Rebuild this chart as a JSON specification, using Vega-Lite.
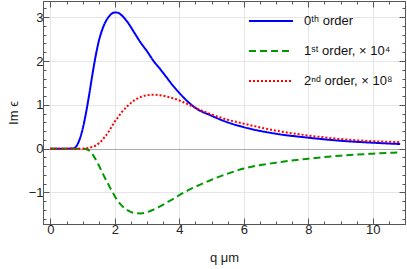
{
  "$schema": "https://vega.github.io/schema/vega-lite/v6.json",
  "width": 362,
  "height": 223,
  "autosize": "none",
  "padding": {"left": 43, "top": 1, "right": 2, "bottom": 45},
  "config": {
    "font": "Liberation Sans",
    "view": {"stroke": "#555555", "strokeWidth": 1},
    "axis": {
      "domainColor": "#555555",
      "tickColor": "#555555",
      "labelColor": "#222222",
      "labelFont": "Liberation Sans",
      "titleFont": "Liberation Sans",
      "titleFontWeight": "normal",
      "titleColor": "#222222",
      "gridColor": "#e6e6e6",
      "labelOverlap": false,
      "labelFlush": false
    },
    "legend": {
      "labelFont": "Liberation Sans",
      "labelFontSize": 13,
      "labelColor": "#111111"
    }
  },
  "data": {
    "values": [
      {"q": 0, "s": "0ᵗʰ order", "v": 0},
      {"q": 0.5, "s": "0ᵗʰ order", "v": 0},
      {"q": 0.7, "s": "0ᵗʰ order", "v": 0.005},
      {"q": 0.8, "s": "0ᵗʰ order", "v": 0.05},
      {"q": 0.9, "s": "0ᵗʰ order", "v": 0.2},
      {"q": 1.0, "s": "0ᵗʰ order", "v": 0.45},
      {"q": 1.1, "s": "0ᵗʰ order", "v": 0.8},
      {"q": 1.2, "s": "0ᵗʰ order", "v": 1.22},
      {"q": 1.3, "s": "0ᵗʰ order", "v": 1.68},
      {"q": 1.4, "s": "0ᵗʰ order", "v": 2.1},
      {"q": 1.5, "s": "0ᵗʰ order", "v": 2.45},
      {"q": 1.6, "s": "0ᵗʰ order", "v": 2.7},
      {"q": 1.7, "s": "0ᵗʰ order", "v": 2.88},
      {"q": 1.8, "s": "0ᵗʰ order", "v": 3.0},
      {"q": 1.9, "s": "0ᵗʰ order", "v": 3.08},
      {"q": 2.0, "s": "0ᵗʰ order", "v": 3.11},
      {"q": 2.1, "s": "0ᵗʰ order", "v": 3.1},
      {"q": 2.2, "s": "0ᵗʰ order", "v": 3.05},
      {"q": 2.4, "s": "0ᵗʰ order", "v": 2.88},
      {"q": 2.6, "s": "0ᵗʰ order", "v": 2.65},
      {"q": 2.8, "s": "0ᵗʰ order", "v": 2.42},
      {"q": 3.0, "s": "0ᵗʰ order", "v": 2.22},
      {"q": 3.2, "s": "0ᵗʰ order", "v": 2.0},
      {"q": 3.4, "s": "0ᵗʰ order", "v": 1.82},
      {"q": 3.6, "s": "0ᵗʰ order", "v": 1.63},
      {"q": 3.8, "s": "0ᵗʰ order", "v": 1.44},
      {"q": 4.0, "s": "0ᵗʰ order", "v": 1.27},
      {"q": 4.5, "s": "0ᵗʰ order", "v": 0.93},
      {"q": 5.0, "s": "0ᵗʰ order", "v": 0.75},
      {"q": 5.5, "s": "0ᵗʰ order", "v": 0.6},
      {"q": 6.0, "s": "0ᵗʰ order", "v": 0.49},
      {"q": 7.0, "s": "0ᵗʰ order", "v": 0.34},
      {"q": 8.0, "s": "0ᵗʰ order", "v": 0.25},
      {"q": 9.0, "s": "0ᵗʰ order", "v": 0.18},
      {"q": 10.0, "s": "0ᵗʰ order", "v": 0.135},
      {"q": 10.85, "s": "0ᵗʰ order", "v": 0.105},

      {"q": 0, "s": "1ˢᵗ order, × 10⁴", "v": 0},
      {"q": 0.5, "s": "1ˢᵗ order, × 10⁴", "v": 0},
      {"q": 1.0, "s": "1ˢᵗ order, × 10⁴", "v": 0},
      {"q": 1.1, "s": "1ˢᵗ order, × 10⁴", "v": -0.01},
      {"q": 1.2, "s": "1ˢᵗ order, × 10⁴", "v": -0.04},
      {"q": 1.3, "s": "1ˢᵗ order, × 10⁴", "v": -0.12},
      {"q": 1.4, "s": "1ˢᵗ order, × 10⁴", "v": -0.24},
      {"q": 1.5, "s": "1ˢᵗ order, × 10⁴", "v": -0.38},
      {"q": 1.6, "s": "1ˢᵗ order, × 10⁴", "v": -0.53},
      {"q": 1.7, "s": "1ˢᵗ order, × 10⁴", "v": -0.68},
      {"q": 1.8, "s": "1ˢᵗ order, × 10⁴", "v": -0.82},
      {"q": 1.9, "s": "1ˢᵗ order, × 10⁴", "v": -0.96},
      {"q": 2.0, "s": "1ˢᵗ order, × 10⁴", "v": -1.09},
      {"q": 2.1, "s": "1ˢᵗ order, × 10⁴", "v": -1.2},
      {"q": 2.2, "s": "1ˢᵗ order, × 10⁴", "v": -1.29},
      {"q": 2.4, "s": "1ˢᵗ order, × 10⁴", "v": -1.41},
      {"q": 2.6, "s": "1ˢᵗ order, × 10⁴", "v": -1.47},
      {"q": 2.8, "s": "1ˢᵗ order, × 10⁴", "v": -1.48},
      {"q": 3.0, "s": "1ˢᵗ order, × 10⁴", "v": -1.45},
      {"q": 3.2, "s": "1ˢᵗ order, × 10⁴", "v": -1.39},
      {"q": 3.4, "s": "1ˢᵗ order, × 10⁴", "v": -1.32},
      {"q": 3.6, "s": "1ˢᵗ order, × 10⁴", "v": -1.23},
      {"q": 3.8, "s": "1ˢᵗ order, × 10⁴", "v": -1.15},
      {"q": 4.0, "s": "1ˢᵗ order, × 10⁴", "v": -1.06},
      {"q": 4.5, "s": "1ˢᵗ order, × 10⁴", "v": -0.87},
      {"q": 5.0, "s": "1ˢᵗ order, × 10⁴", "v": -0.71},
      {"q": 5.5, "s": "1ˢᵗ order, × 10⁴", "v": -0.57},
      {"q": 6.0, "s": "1ˢᵗ order, × 10⁴", "v": -0.455},
      {"q": 7.0, "s": "1ˢᵗ order, × 10⁴", "v": -0.32},
      {"q": 8.0, "s": "1ˢᵗ order, × 10⁴", "v": -0.23},
      {"q": 9.0, "s": "1ˢᵗ order, × 10⁴", "v": -0.16},
      {"q": 10.0, "s": "1ˢᵗ order, × 10⁴", "v": -0.115},
      {"q": 10.85, "s": "1ˢᵗ order, × 10⁴", "v": -0.085},

      {"q": 0, "s": "2ⁿᵈ order, × 10⁸", "v": 0},
      {"q": 0.5, "s": "2ⁿᵈ order, × 10⁸", "v": 0},
      {"q": 1.0, "s": "2ⁿᵈ order, × 10⁸", "v": 0},
      {"q": 1.1, "s": "2ⁿᵈ order, × 10⁸", "v": 0.005},
      {"q": 1.2, "s": "2ⁿᵈ order, × 10⁸", "v": 0.02},
      {"q": 1.3, "s": "2ⁿᵈ order, × 10⁸", "v": 0.04},
      {"q": 1.4, "s": "2ⁿᵈ order, × 10⁸", "v": 0.07},
      {"q": 1.5, "s": "2ⁿᵈ order, × 10⁸", "v": 0.12},
      {"q": 1.6, "s": "2ⁿᵈ order, × 10⁸", "v": 0.19},
      {"q": 1.7, "s": "2ⁿᵈ order, × 10⁸", "v": 0.28},
      {"q": 1.8, "s": "2ⁿᵈ order, × 10⁸", "v": 0.38},
      {"q": 1.9, "s": "2ⁿᵈ order, × 10⁸", "v": 0.5},
      {"q": 2.0, "s": "2ⁿᵈ order, × 10⁸", "v": 0.62},
      {"q": 2.1, "s": "2ⁿᵈ order, × 10⁸", "v": 0.72},
      {"q": 2.2, "s": "2ⁿᵈ order, × 10⁸", "v": 0.82},
      {"q": 2.4, "s": "2ⁿᵈ order, × 10⁸", "v": 0.98},
      {"q": 2.6, "s": "2ⁿᵈ order, × 10⁸", "v": 1.1},
      {"q": 2.8, "s": "2ⁿᵈ order, × 10⁸", "v": 1.18},
      {"q": 3.0, "s": "2ⁿᵈ order, × 10⁸", "v": 1.22},
      {"q": 3.2, "s": "2ⁿᵈ order, × 10⁸", "v": 1.23},
      {"q": 3.4, "s": "2ⁿᵈ order, × 10⁸", "v": 1.22},
      {"q": 3.6, "s": "2ⁿᵈ order, × 10⁸", "v": 1.19},
      {"q": 3.8, "s": "2ⁿᵈ order, × 10⁸", "v": 1.15},
      {"q": 4.0, "s": "2ⁿᵈ order, × 10⁸", "v": 1.1},
      {"q": 4.5, "s": "2ⁿᵈ order, × 10⁸", "v": 0.93},
      {"q": 5.0, "s": "2ⁿᵈ order, × 10⁸", "v": 0.78},
      {"q": 5.5, "s": "2ⁿᵈ order, × 10⁸", "v": 0.66},
      {"q": 6.0, "s": "2ⁿᵈ order, × 10⁸", "v": 0.57},
      {"q": 7.0, "s": "2ⁿᵈ order, × 10⁸", "v": 0.41},
      {"q": 8.0, "s": "2ⁿᵈ order, × 10⁸", "v": 0.3},
      {"q": 9.0, "s": "2ⁿᵈ order, × 10⁸", "v": 0.22},
      {"q": 10.0, "s": "2ⁿᵈ order, × 10⁸", "v": 0.17},
      {"q": 10.85, "s": "2ⁿᵈ order, × 10⁸", "v": 0.15}
    ]
  },
  "resolve": {"axis": {"x": "independent", "y": "independent"}},
  "layer": [
    {
      "mark": {"type": "line", "strokeWidth": 2, "interpolate": "monotone", "clip": true},
      "encoding": {
        "x": {
          "field": "q", "type": "quantitative",
          "scale": {"domain": [-0.23, 11.0], "nice": false, "zero": false},
          "axis": {
            "orient": "bottom",
            "title": "q μm",
            "values": [0,0.5,1,1.5,2,2.5,3,3.5,4,4.5,5,5.5,6,6.5,7,7.5,8,8.5,9,9.5,10,10.5],
            "labelExpr": "datum.value % 2 === 0 ? format(datum.value, 'd') : ''",
            "tickSize": {"condition": {"test": "datum.value % 2 === 0", "value": -6}, "value": -3},
            "gridOpacity": {"condition": {"test": "datum.value % 2 === 0", "value": 1}, "value": 0},
            "labelFontSize": 13,
            "titleFontSize": 13,
            "labelPadding": 5,
            "titlePadding": 12
          }
        },
        "y": {
          "field": "v", "type": "quantitative",
          "scale": {"domain": [-1.72, 3.37], "nice": false, "zero": false},
          "axis": {
            "orient": "left",
            "title": "Im ϵ",
            "values": [-1.6,-1.4,-1.2,-1,-0.8,-0.6,-0.4,-0.2,0,0.2,0.4,0.6,0.8,1,1.2,1.4,1.6,1.8,2,2.2,2.4,2.6,2.8,3,3.2],
            "labelExpr": "abs(datum.value - round(datum.value)) < 0.001 ? format(datum.value, 'd') : ''",
            "tickSize": {"condition": {"test": "abs(datum.value - round(datum.value)) < 0.001", "value": -6}, "value": -3},
            "gridOpacity": {"condition": {"test": "abs(datum.value - round(datum.value)) < 0.001", "value": 1}, "value": 0},
            "gridColor": {"condition": {"test": "datum.value === 0", "value": "#aaaaaa"}, "value": "#e6e6e6"},
            "labelFontSize": 13,
            "titleFontSize": 13,
            "labelPadding": 6,
            "titlePadding": 8
          }
        },
        "color": {
          "field": "s", "type": "nominal",
          "scale": {"domain": ["0ᵗʰ order", "1ˢᵗ order, × 10⁴", "2ⁿᵈ order, × 10⁸"], "range": ["#0000ff", "#009900", "#ff0000"]},
          "legend": {
            "title": null,
            "orient": "none",
            "legendX": 205,
            "legendY": -3,
            "padding": 0,
            "symbolType": "stroke",
            "symbolSize": 1936,
            "symbolStrokeWidth": 2,
            "labelOffset": 10,
            "rowPadding": -2.5
          }
        },
        "strokeDash": {
          "field": "s", "type": "nominal",
          "scale": {"domain": ["0ᵗʰ order", "1ˢᵗ order, × 10⁴", "2ⁿᵈ order, × 10⁸"], "range": [[1, 0], [7, 4], [2, 2]]},
          "legend": null
        }
      }
    },
    {
      "mark": {"type": "line", "strokeOpacity": 0},
      "encoding": {
        "x": {
          "field": "q", "type": "quantitative",
          "axis": {
            "orient": "top", "title": null, "labels": false, "grid": false,
            "values": [0,0.5,1,1.5,2,2.5,3,3.5,4,4.5,5,5.5,6,6.5,7,7.5,8,8.5,9,9.5,10,10.5],
            "tickSize": {"condition": {"test": "datum.value % 2 === 0", "value": -6}, "value": -3}
          }
        },
        "y": {
          "field": "v", "type": "quantitative",
          "axis": {
            "orient": "right", "title": null, "labels": false, "grid": false,
            "values": [-1.6,-1.4,-1.2,-1,-0.8,-0.6,-0.4,-0.2,0,0.2,0.4,0.6,0.8,1,1.2,1.4,1.6,1.8,2,2.2,2.4,2.6,2.8,3,3.2],
            "tickSize": {"condition": {"test": "abs(datum.value - round(datum.value)) < 0.001", "value": -6}, "value": -3}
          }
        }
      }
    }
  ]
}
